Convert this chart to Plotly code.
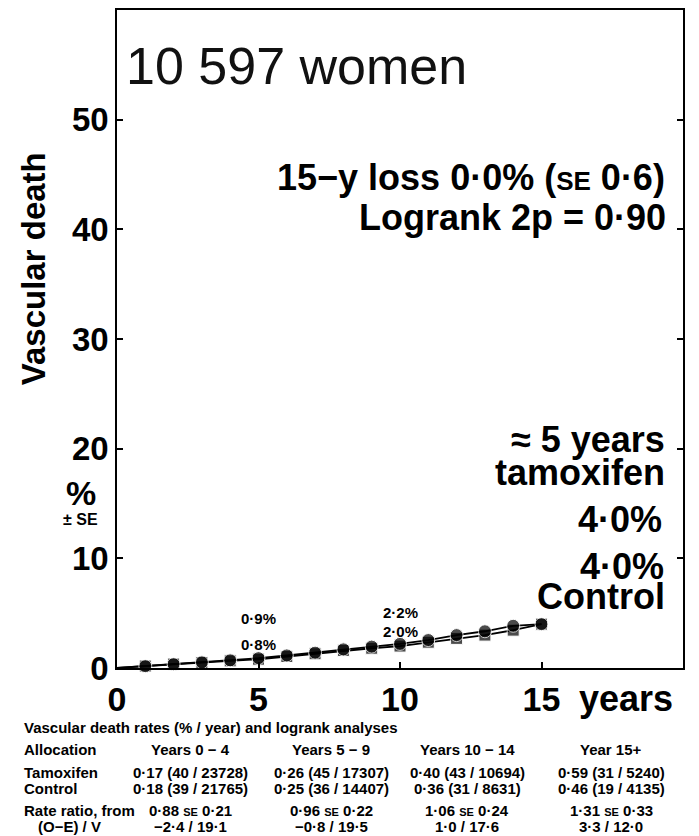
import plotly.graph_objects as go

# Cumulative vascular death (%) by year since randomisation
years = list(range(0, 16))
tamoxifen = [0, 0.17, 0.35, 0.52, 0.70, 0.9, 1.15, 1.4, 1.7, 1.95, 2.2, 2.55, 3.0, 3.35, 3.85, 4.0]
control = [0, 0.18, 0.36, 0.50, 0.65, 0.8, 1.05, 1.3, 1.6, 1.8, 2.0, 2.35, 2.7, 3.0, 3.45, 4.0]

# Event-rate table
periods = ["Years 0 − 4", "Years 5 − 9", "Years 10 − 14", "Year 15+"]
tam_rate = [0.17, 0.26, 0.40, 0.59]
tam_events = [40, 45, 43, 31]
tam_py = [23728, 17307, 10694, 5240]
ctrl_rate = [0.18, 0.25, 0.36, 0.46]
ctrl_events = [39, 36, 31, 19]
ctrl_py = [21765, 14407, 8631, 4135]
rate_ratio = [0.88, 0.96, 1.06, 1.31]
rate_ratio_se = [0.21, 0.22, 0.24, 0.33]
o_minus_e = [-2.4, -0.8, 1.0, 3.3]
variance = [19.1, 19.5, 17.6, 12.0]

n_women = "10 597"
loss_se = 0.6
logrank_p = "0·90"

FONT = "Liberation Sans, Arial, Helvetica, sans-serif"

# plot-area geometry (pixels)
W, H = 699, 836
L, R, T, B = 117, 683, 8, 668


def px(x):
    return (x - L) / (R - L)


def py(y):
    return (B - y) / (B - T)


def dot(v, nd=1):
    s = f"{abs(v):.{nd}f}".replace(".", "·")
    return ("−" + s) if v < 0 else s


fig = go.Figure()

marker_sizes_sq = [0] + [12] * (len(years) - 1)
marker_sizes_ci = [0] + [13] * (len(years) - 1)

fig.add_trace(go.Scatter(
    x=years, y=control, mode="lines+markers", name="Control",
    line=dict(color="black", width=1.8),
    marker=dict(symbol="square", size=marker_sizes_sq, color="black"),
    cliponaxis=False, showlegend=False,
))
fig.add_trace(go.Scatter(
    x=years, y=tamoxifen, mode="lines+markers", name="Tamoxifen",
    line=dict(color="black", width=1.8),
    marker=dict(symbol="circle", size=marker_sizes_ci, color="black"),
    cliponaxis=False, showlegend=False,
))

ann = []


def text(s, x, y, size, xanchor="center", bold=True, xref="paper", yref="paper", color="black", angle=0):
    ann.append(dict(
        text=s, x=x, y=y, xref=xref, yref=yref, xanchor=xanchor, yanchor="middle",
        showarrow=False, textangle=angle,
        font=dict(family=FONT, size=size, color=color, weight="bold" if bold else "normal"),
    ))


# headline texts
text(f"{n_women} women", px(124), py(64), 52, xanchor="left", bold=False, color="#111")
loss = tamoxifen[-1] - control[-1]
text(f"15−y loss {dot(loss)}% (<span style='font-size:26px'>SE</span> {dot(loss_se)})",
     px(667), py(176), 36, xanchor="right")
text(f"Logrank 2p = {logrank_p}", px(668), py(216), 36, xanchor="right")

# end-of-curve labels
text("≈ 5 years", px(667), py(439), 36, xanchor="right")
text("tamoxifen", px(667), py(472), 36, xanchor="right")
text(f"{dot(tamoxifen[-1])}%", px(664), py(519), 36, xanchor="right")
text(f"{dot(control[-1])}%", px(666), py(566), 36, xanchor="right")
text("Control", px(667), py(596), 36, xanchor="right")

# values at 5 and 10 years
text(f"{dot(tamoxifen[5])}%", 5, py(618), 15, xref="x")
text(f"{dot(control[5])}%", 5, py(644), 15, xref="x")
text(f"{dot(tamoxifen[10])}%", 10, py(612), 15, xref="x")
text(f"{dot(control[10])}%", 10, py(631), 15, xref="x")

# axis titles
text("Vascular death", px(33), py(268), 33, angle=-90)
text("%", px(81), py(492), 34)
text("± SE", px(80), py(519), 16)
text("years", px(577), py(699), 36, xanchor="left")

# table
col_x = [190, 331, 467, 611]
row_y = dict(title=728, head=750, tam=773, ctrl=789, rr=811, oe=827)
TS = 15
text("Vascular death rates (% / year) and logrank analyses", px(22), py(row_y["title"]), TS, xanchor="left")
text("Allocation", px(22), py(row_y["head"]), TS, xanchor="left")
text("Tamoxifen", px(22), py(row_y["tam"]), TS, xanchor="left")
text("Control", px(22), py(row_y["ctrl"]), TS, xanchor="left")
text("Rate ratio, from", px(22), py(row_y["rr"]), TS, xanchor="left")
text("(O−E) / V", px(36), py(row_y["oe"]), TS, xanchor="left")
for i, cx in enumerate(col_x):
    text(periods[i], px(cx), py(row_y["head"]), TS)
    text(f"{dot(tam_rate[i], 2)} ({tam_events[i]} / {tam_py[i]})", px(cx), py(row_y["tam"]), TS)
    text(f"{dot(ctrl_rate[i], 2)} ({ctrl_events[i]} / {ctrl_py[i]})", px(cx), py(row_y["ctrl"]), TS)
    text(f"{dot(rate_ratio[i], 2)} <span style='font-size:11px'>SE</span> {dot(rate_ratio_se[i], 2)}",
         px(cx), py(row_y["rr"]), TS)
    text(f"{dot(o_minus_e[i])} / {dot(variance[i])}", px(cx), py(row_y["oe"]), TS)

xtickfont = dict(family=FONT, size=34, color="black", weight="bold")
ytickfont = dict(family=FONT, size=33, color="black", weight="bold")

fig.update_layout(
    width=W, height=H,
    margin=dict(l=L, r=W - R, t=T, b=H - B, pad=0),
    paper_bgcolor="white", plot_bgcolor="white",
    annotations=ann,
    xaxis=dict(
        range=[0, 20], tickvals=[0, 5, 10, 15], ticktext=["0", "5", "10", "15"],
        ticks="inside", ticklen=6, tickwidth=1.5, tickcolor="black",
        showline=True, linecolor="black", linewidth=1.5, mirror=True,
        showgrid=False, zeroline=False, tickfont=xtickfont,
    ),
    yaxis=dict(
        range=[0, 60], tickvals=[0, 10, 20, 30, 40, 50],
        ticks="inside", ticklen=6, tickwidth=1.5, tickcolor="black",
        showline=True, linecolor="black", linewidth=1.5, mirror="ticks",
        showgrid=False, zeroline=False, tickfont=ytickfont,
    ),
)

fig.write_html("out.html")
